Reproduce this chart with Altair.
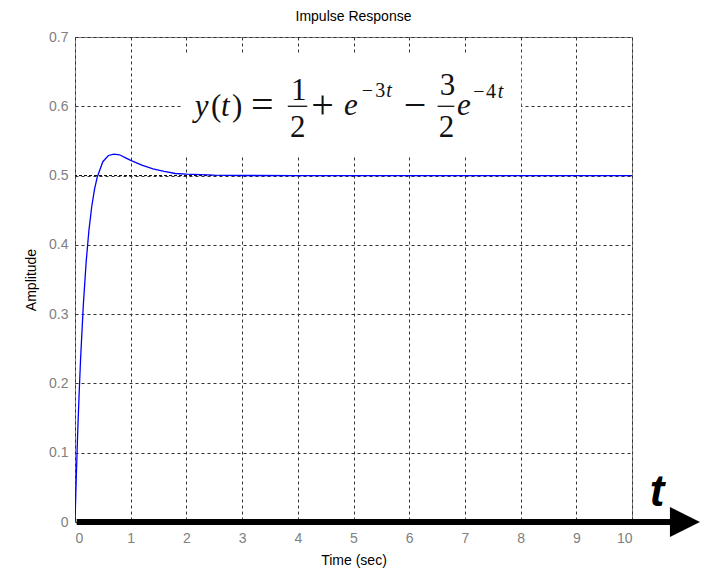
import altair as alt
import pandas as pd

# Impulse response curve
t_vals = [0, 0.025, 0.05, 0.075, 0.1, 0.15, 0.2, 0.25, 0.3, 0.35, 0.4, 0.5, 0.6, 0.7,
          0.8, 0.9, 1.0, 1.2, 1.4, 1.6, 1.8, 2.0, 2.5, 3, 4, 5, 6, 7, 8, 9, 10]
amp_vals = [0, 0.070, 0.133, 0.187, 0.235, 0.314, 0.375, 0.421, 0.455, 0.480, 0.498, 0.520,
            0.529, 0.531, 0.530, 0.526, 0.522, 0.515, 0.5095, 0.506, 0.503, 0.502, 0.5006,
            0.5001, 0.5, 0.5, 0.5, 0.5, 0.5, 0.5, 0.5]
x_ticks = [0, 1, 2, 3, 4, 5, 6, 7, 8, 9, 10]
y_ticks = [0, 0.1, 0.2, 0.3, 0.4, 0.5, 0.6, 0.7]
final_value = [0.5]

# formula pieces (text, position in data units, style, size)
f_text = ["y", "(", "t", ")", "=", "1", "2", "+", "e", "\u2212", "3", "t",
          "\u2212", "3", "2", "e", "\u2212", "4", "t"]
f_x = [2.15, 2.44, 2.62, 2.82, 3.16, 3.88, 3.86, 4.24, 4.83, 5.15, 5.39, 5.59,
       5.90, 6.55, 6.53, 6.86, 7.15, 7.38, 7.59]
f_y = [0.5855, 0.5855, 0.5855, 0.5855, 0.5835, 0.6086, 0.5552, 0.5835, 0.5870, 0.6129,
       0.6129, 0.6129, 0.5835, 0.6158, 0.5552, 0.5870, 0.6114, 0.6114, 0.6114]
f_italic = [True, False, True, False, False, False, False, False, True, False, False, True,
            False, False, False, True, False, False, True]
f_size = [31, 31, 31, 31, 40, 31, 31, 40, 31, 20, 20, 20, 40, 31, 31, 31, 20, 20, 20]
bar_x = [3.82, 6.51]
bar_x2 = [4.17, 6.81]
bar_y = [0.6, 0.6]

xs = alt.Scale(domain=[0, 10], nice=False, zero=False)
ys = alt.Scale(domain=[0, 0.7], nice=False, zero=False)

curve = pd.DataFrame({"t": t_vals, "a": amp_vals})
formula = pd.DataFrame({"txt": f_text, "x": f_x, "y": f_y, "it": f_italic, "s": f_size})
bars = pd.DataFrame({"x": bar_x, "x2": bar_x2, "y": bar_y})

base = alt.Chart(curve).mark_line(color="#0000ff", strokeWidth=1.3, clip=True).encode(
    x=alt.X("t:Q", scale=xs, title="Time (sec)",
            axis=alt.Axis(values=x_ticks, format="~f")),
    y=alt.Y("a:Q", scale=ys, title="Amplitude",
            axis=alt.Axis(values=y_ticks, format=".1~f")),
)

box = alt.Chart(pd.DataFrame({"x": [1.92], "x2": [8.01], "y": [0.53], "y2": [0.677]})).mark_rect(
    color="white").encode(
    x=alt.X("x:Q", scale=xs), x2="x2:Q", y=alt.Y("y:Q", scale=ys), y2="y2:Q")

ss_line = alt.Chart(pd.DataFrame({"y": final_value})).mark_rule(
    color="black", strokeDash=[3, 2], strokeWidth=1).encode(y=alt.Y("y:Q", scale=ys))

upright = alt.Chart(formula).transform_filter("!datum.it").mark_text(
    font="Liberation Serif", align="left", baseline="alphabetic", color="#111").encode(
    x=alt.X("x:Q", scale=xs), y=alt.Y("y:Q", scale=ys), text="txt:N",
    size=alt.Size("s:Q", scale=None))
italic = alt.Chart(formula).transform_filter("datum.it").mark_text(
    font="Liberation Serif", fontStyle="italic", align="left", baseline="alphabetic",
    color="#111").encode(
    x=alt.X("x:Q", scale=xs), y=alt.Y("y:Q", scale=ys), text="txt:N",
    size=alt.Size("s:Q", scale=None))
frac = alt.Chart(bars).mark_rule(color="#111", strokeWidth=1.3).encode(
    x=alt.X("x:Q", scale=xs), x2="x2:Q", y=alt.Y("y:Q", scale=ys))

arrow_line = alt.Chart(pd.DataFrame({"x": [0.03], "x2": [10.8], "y": [0]})).mark_rule(
    color="black", strokeWidth=6).encode(
    x=alt.X("x:Q", scale=xs), x2="x2:Q", y=alt.Y("y:Q", scale=ys))
arrow_head = alt.Chart(pd.DataFrame({"x": [10.95], "y": [0]})).mark_point(
    shape="M-1,-1L1,0L-1,1Z", filled=True, color="black", opacity=1, size=900).encode(
    x=alt.X("x:Q", scale=xs), y=alt.Y("y:Q", scale=ys))
t_label = alt.Chart(pd.DataFrame({"x": [10.45], "y": [0.0227], "txt": ["t"]})).mark_text(
    font="Liberation Sans", fontStyle="italic", fontWeight="bold", fontSize=44,
    align="center", baseline="alphabetic", color="black").encode(
    x=alt.X("x:Q", scale=xs), y=alt.Y("y:Q", scale=ys), text="txt:N")

chart = alt.layer(box, ss_line, base, upright, italic, frac, arrow_line, arrow_head, t_label).properties(
    width=557, height=485,
    title=alt.TitleParams("Impulse Response", fontSize=14, fontWeight="normal",
                          font="Liberation Sans", color="black", offset=6),
    autosize=alt.AutoSizeParams(type="none"),
    padding={"left": 75, "top": 37, "right": 72, "bottom": 53},
).configure_view(stroke="#808080", strokeWidth=1).configure_axis(
    grid=True, gridColor="#333333", gridDash=[3, 3], gridWidth=1, gridOpacity=1,
    domain=False, ticks=False, labelFont="Liberation Sans", labelFontSize=14,
    labelColor="#808080", titleFont="Liberation Sans", titleFontSize=14,
    titleFontWeight="normal", titleColor="black",
).configure_axisX(labelPadding=9, titlePadding=8).configure_axisY(
    labelPadding=7, titlePadding=10)

chart.save("out.html", embed_options={"renderer": "svg", "actions": False})
